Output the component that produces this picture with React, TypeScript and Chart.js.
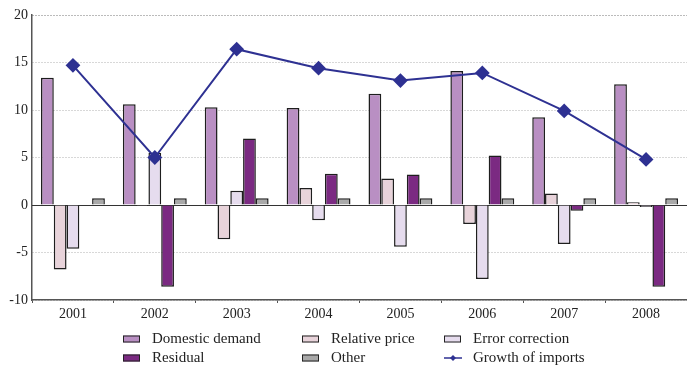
import React, { useEffect, useRef } from 'react';
import { Chart, registerables } from 'chart.js';

Chart.register(...registerables);

const categories = ['2001', '2002', '2003', '2004', '2005', '2006', '2007', '2008'];
const domesticDemand = [13.4, 10.6, 10.3, 10.2, 11.7, 14.1, 9.25, 12.7];
const relativePrice = [-6.8, -0.1, -3.6, 1.8, 2.8, -2.0, 1.2, 0.3];
const errorCorrection = [-4.6, 5.5, 1.5, -1.6, -4.4, -7.8, -4.1, -0.2];
const residual = [0, -8.6, 7.0, 3.3, 3.2, 5.2, -0.6, -8.6];
const other = [0.7, 0.7, 0.7, 0.7, 0.7, 0.7, 0.7, 0.7];
const growthOfImports = [14.7, 5.0, 16.4, 14.4, 13.1, 13.9, 9.9, 4.8];

const yMin = -10;
const yMax = 20;
const yStep = 5;

const FONT = '"Liberation Serif", "Times New Roman", serif';

const legendPlugin = {
  id: 'gridLegend',
  afterDraw(chart: any) {
    const ctx = chart.ctx;
    const cols = [123, 302, 444];
    const rows = [339, 358];
    ctx.save();
    ctx.font = `15px ${FONT}`;
    ctx.textBaseline = 'middle';
    ctx.fillStyle = '#222';
    chart.data.datasets.forEach((ds: any, i: number) => {
      const x = cols[i % 3];
      const y = rows[Math.floor(i / 3)];
      if (ds.type === 'line') {
        ctx.strokeStyle = ds.borderColor;
        ctx.lineWidth = 1.5;
        ctx.beginPath();
        ctx.moveTo(x, y);
        ctx.lineTo(x + 18, y);
        ctx.stroke();
        ctx.fillStyle = ds.borderColor;
        ctx.beginPath();
        ctx.moveTo(x + 9, y - 3);
        ctx.lineTo(x + 12, y);
        ctx.lineTo(x + 9, y + 3);
        ctx.lineTo(x + 6, y);
        ctx.closePath();
        ctx.fill();
      } else {
        ctx.fillStyle = ds.backgroundColor;
        ctx.fillRect(x, y - 3.5, 17, 7);
        ctx.strokeStyle = '#222';
        ctx.lineWidth = 1;
        ctx.strokeRect(x + 0.5, y - 3, 16, 6);
      }
      ctx.fillStyle = '#222';
      ctx.fillText(ds.label, x + 29, y);
    });
    ctx.restore();
  },
};

const zeroLinePlugin = {
  id: 'zeroLine',
  beforeDatasetsDraw(chart: any) {
    const { ctx, chartArea, scales } = chart;
    const y = Math.round(scales.y.getPixelForValue(0)) + 0.5;
    ctx.save();
    ctx.strokeStyle = '#333';
    ctx.lineWidth = 1.2;
    ctx.beginPath();
    ctx.moveTo(chartArea.left, y);
    ctx.lineTo(chartArea.right, y);
    ctx.stroke();
    ctx.restore();
  },
};

export default function App() {
  const ref = useRef<HTMLCanvasElement | null>(null);

  useEffect(() => {
    if (!ref.current) return;
    const bar = (label: string, data: number[], color: string) => ({
      type: 'bar' as const,
      label,
      data,
      backgroundColor: color,
      borderColor: '#1e1e1e',
      borderWidth: 1.5,
      order: 1,
      barPercentage: 1,
      categoryPercentage: 0.78,
    });
    const chart = new Chart(ref.current, {
      type: 'bar',
      data: {
        labels: categories,
        datasets: [
          bar('Domestic demand', domesticDemand, '#b98fc3'),
          bar('Relative price', relativePrice, '#e8d3da'),
          bar('Error correction', errorCorrection, '#e6dcee'),
          bar('Residual', residual, '#7b2a82'),
          bar('Other', other, '#a9a9a9'),
          {
            type: 'line' as const,
            label: 'Growth of imports',
            data: growthOfImports,
            borderColor: '#2e3192',
            backgroundColor: '#2e3192',
            borderWidth: 2,
            pointStyle: 'rectRot',
            pointRadius: 6,
            pointBackgroundColor: '#2e3192',
            pointBorderColor: '#2e3192',
            order: 0,
            tension: 0,
          } as any,
        ],
      },
      options: {
        responsive: false,
        animation: false,
        layout: { autoPadding: false, padding: { top: 15, bottom: 45, left: 0, right: 0 } },
        plugins: {
          legend: { display: false },
          tooltip: { enabled: false },
        },
        scales: {
          x: {
            offset: true,
            grid: {
              offset: true,
              drawOnChartArea: false,
              drawTicks: true,
              tickLength: 3,
              color: '#555',
            },
            border: { display: true, color: '#555', width: 1.5 },
            ticks: {
              font: { family: FONT, size: 14 },
              color: '#222',
              padding: 3,
              maxRotation: 0,
            },
            afterFit(scale: any) {
              scale.height = 22;
            },
          },
          y: {
            min: yMin,
            max: yMax,
            ticks: {
              stepSize: yStep,
              font: { family: FONT, size: 14 },
              color: '#222',
              padding: 4,
            },
            grid: {
              drawTicks: false,
              color: (c: any) => (c.tick && c.tick.value === yMax ? '#777' : '#b0b0b0'),
              lineWidth: 1,
            },
            border: { display: true, color: '#555', width: 1.5, dash: [1, 2] },
            afterFit(scale: any) {
              scale.width = 32;
            },
          },
        },
      },
      plugins: [zeroLinePlugin, legendPlugin],
    });
    return () => chart.destroy();
  }, []);

  return (
    <div style={{ position: 'absolute', left: 0, top: 0, width: 687, height: 367, background: '#fff' }}>
      <canvas ref={ref} width={687} height={367} />
    </div>
  );
}
